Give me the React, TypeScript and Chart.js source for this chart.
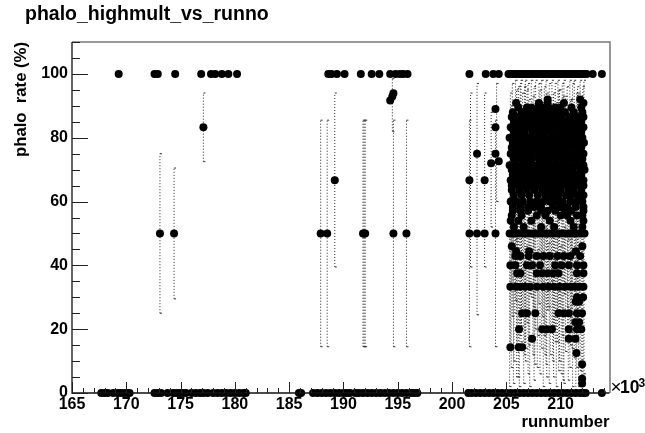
import React, { useEffect, useRef } from "react";
import { Chart, registerables } from "chart.js";

Chart.register(...registerables);

const titleText = "phalo_highmult_vs_runno";
const xTitle = "runnumber";
const yTitle = "phalo  rate (%)";

const fullRuns = [169.3,172.6,172.9,174.5,176.9,177.8,178.2,178.8,179.4,180.2,188.6,188.9,189.4,190.1,191.6,192.6,193.3,194.3,194.8,195.2,195.5,195.9,201.6,203.1,203.8,204.3,205.2,205.4,205.6,205.8,206,206.2,206.4,206.6,206.8,207,207.2,207.4,207.6,207.8,208,208.2,208.4,208.6,208.8,209,209.2,209.4,209.6,209.8,210,210.2,210.4,210.6,210.8,211,211.2,211.4,211.6,211.8,212,212.2,212.4,212.95,213.8];
const zeroRuns = [167.7,168,168.3,168.8,169.2,169.5,169.8,170.1,170.3,172.6,172.9,173.2,173.8,174.3,174.6,174.9,175.2,175.5,176,176.4,176.8,177.1,177.5,178,178.4,178.8,179.2,179.6,180,180.4,180.8,181,185.9,186.1,187.2,187.6,188,188.4,188.8,189.2,189.6,190,190.3,190.6,191.1,191.4,191.8,192.2,192.6,193,193.4,193.8,194.2,194.6,195,195.4,195.8,196.2,196.5,196.8,201.5,201.8,202.2,202.6,203,203.4,203.8,204.2,204.6,205,205.4,205.8,206.2,206.6,207,207.4,207.8,208.2,208.6,209,209.4,209.8,210.2,210.6,211,211.4,211.8,212.1,212.3,213.8];
const sparseRuns = [173.1,174.4,177.1,187.9,188.5,189.2,191.8,191.9,192,194.3,194.5,194.6,194.6,195.8,201.6,201.6,202.3,202.3,203,203,203.6,204,204,204,204,204.3];
const sparseRates = [50,50,83.3,50,50,66.7,50,50,50,91.7,92.9,93.9,50,50,50,66.7,50,75,50,66.7,72,50,89,83.3,75,72.6];

const barRuns = [173.1,174.4,177.1,187.9,188.5,189.2,191.8,191.9,192,194.5,194.6,195.8,201.6,201.7,202.3,203,203.6,204,204.1];
const barLow = [25,29.5,72.5,14.5,14.5,39.5,14.5,14.5,14.5,82,14.5,14.5,14.5,39.5,24.5,39.5,52,14.5,60];
const barHigh = [75,70.5,94,85.5,85.5,94,85.5,85.5,85.5,98.5,85.5,85.5,85.5,94,97,94,88,85.5,97];

const denseBarRuns = [205.3,205.37,205.45,205.55,205.65,205.7,205.85,205.95,206,206.1,206.2,206.28,206.35,206.5,206.6,206.68,206.75,206.9,207,207.08,207.15,207.3,207.45,207.55,207.62,207.7,207.85,208,208.1,208.25,208.33,208.4,208.5,208.65,208.72,208.8,208.95,209.05,209.2,209.28,209.35,209.5,209.6,209.75,209.82,209.9,210.05,210.15,210.22,210.3,210.45,210.6,210.7,210.85,210.92,211,211.1,211.25,211.4,211.48,211.55,211.65,211.8,211.95,212.05,212.15];
const denseBarLow = [2,14,8,24,3,10,29,5,14,5,2,18,16,25,3,12,10,22,6,15,2,30,12,4,9,20,8,28,6,14,24,2,18,9,5,26,3,12,20,10,5,16,2,24,7,10,6,18,4,3,13,27,4,8,15,19,2,11,1,8,16,2,7,1,0,6];
const denseBarHigh = [82,94,90,97,86,88,98,95,92,96,85,97,98,94,90,96,98,95,97,92,86,98,93,96,88,98,90,97,95,98,91,88,96,98,94,92,97,86,98,90,94,97,91,98,95,95,88,97,93,98,93,96,86,98,92,92,97,98,88,94,96,94,98,90,96,98];

const lowerBarRuns = [205.5,205.8,206.05,206.4,206.8,207.2,207.5,207.9,208.2,208.55,208.9,209.15,209.45,209.7,210,210.35,210.65,211.05,211.35,211.75];
const lowerBarLow = [33,25,37,21,14,31,27,18,33,12,27,35,21,16,25,31,20,14,28,23];
const lowerBarHigh = [52,48,50,55,46,50,53,45,50,52,47,51,50,54,46,52,48,50,53,47];

const denseRates = [92,90.9,89.5,88,86.5,85,83.3,81.8,80,78.4,76.9,75,73.3,71.4,70,68.4,66.7,65,63.6,62,60,58.3,57.1,55.6,54,52,50,46,44.4,42.9,40,37.5,33.3,30,28.6,25,22.2,20,17,14.3,12.5,9,4.5,3];
const denseRuns: number[][] = [
  [208.8,211.8],
  [205.9,208,208.8,210.3,212.1],
  [206.1,206.9,207.3,207.9,208.3,208.9,209.5,210,211,211.9],
  [205.6,206.4,207,207.6,208.1,208.7,209.2,209.8,210.4,211.2,212],
  [205.5,206,206.6,207.2,207.7,208.2,208.6,209,209.6,210.1,210.8,211.5,212.1],
  [205.7,206.3,206.9,207.5,208,208.5,209.1,209.7,210.3,210.9,211.4,211.9],
  [205.4,205.9,206.3,206.8,207.3,207.8,208.3,208.9,209.4,209.9,210.5,211,211.6,212.1],
  [205.7,206.2,206.7,207.4,208,208.5,209.1,209.7,210.2,210.7,211.3,211.9],
  [205.3,205.8,206.4,207,207.5,208.1,208.6,209.2,209.8,210.4,210.9,211.4,212],
  [205.6,206.1,206.6,207.2,207.7,208.3,208.8,209.3,209.9,210.5,211.1,211.7,212.15],
  [205.5,206,206.5,207,207.6,208.2,208.7,209.2,209.7,210.3,210.8,211.3,211.9],
  [205.4,205.9,206.4,206.9,207.4,207.9,208.4,208.9,209.5,210,210.6,211.2,211.7,212.1],
  [205.7,206.3,206.8,207.3,208,208.5,209,209.6,210.2,210.8,211.4,212],
  [205.3,205.9,206.5,207.1,207.6,208.2,208.7,209.3,209.9,210.4,211,211.6,212.1],
  [205.5,206,206.6,207.2,207.8,208.3,208.9,209.4,210,210.6,211.1,211.8,212.2],
  [205.6,206.2,206.8,207.4,207.9,208.5,209.1,209.6,210.2,210.7,211.3,211.9],
  [205.4,205.7,206.1,206.5,206.9,207.3,207.7,208.1,208.5,208.9,209.3,209.7,210.1,210.5,210.9,211.3,211.7,212.1],
  [205.5,206.1,206.7,207.3,207.9,208.4,209,209.5,210.1,210.7,211.2,211.8,212.1],
  [205.5,206.2,206.9,207.6,208.3,208.8,209.4,210,210.7,211.2,211.9],
  [205.7,206.4,207.1,207.9,208.6,209.2,209.8,210.5,211,211.6,212.1],
  [205.4,205.9,206.5,207.2,207.8,208.4,209,209.6,210.2,210.9,211.5,212],
  [205.6,206.3,207,207.6,208.2,209.3,210,210.6,211.4,212.1],
  [205.6,206.3,207,208.2,208.8,209.5,210.4,211,212.1],
  [205.5,206.4,207.8,208.6,210,210.6,211.5,212],
  [205.4,206.1,207.3,209,210.9,212.1],
  [205.7,206.6,208.2,209.4,211.2,212],
  [205.3,205.6,205.9,206.2,206.5,206.8,207.1,207.4,207.7,208,208.3,208.6,208.9,209.2,209.5,209.8,210.1,210.4,210.7,211,211.3,211.6,211.9,212.2],
  [205.5,212],
  [205.9,207.1,211.4],
  [205.83,206.3,207.07,207.8,208.4,209,209.7,210.3,210.9,211.8],
  [205.37,205.83,206.9,207.37,208.1,209.5,210.1,210.75,211.5,212.1],
  [206,206.3,207.8,208.3,208.8,209.3,209.8,211.5,212.1],
  [205.37,205.9,206.3,206.75,207.2,207.8,208.4,208.9,209.4,209.9,210.4,210.9,211.3,211.7,212.1],
  [211.5,212.07],
  [211.4,211.7],
  [206.45,206.9,207.67,209.8,210.3,210.75,211.5,211.97],
  [211.36,211.7],
  [206.17,208.3,208.75,209.2,210.75,211.5,211.9],
  [207.37,210.75,211.36],
  [205.37,206.14,206.45],
  [211.45],
  [211.98],
  [211.98],
  [211.98],
];

const toPoints = (xs: number[], ys: number[]) => xs.map((x, i) => ({ x, y: ys[i] }));

const errorPath = (xs: number[], lo: number[], hi: number[]) =>
  xs.flatMap((x, i) => [{ x, y: lo[i] }, { x, y: hi[i] }, { x, y: NaN }]);

const allBarPath = [
  ...errorPath(barRuns, barLow, barHigh),
  ...errorPath(denseBarRuns, denseBarLow, denseBarHigh),
  ...errorPath(lowerBarRuns, lowerBarLow, lowerBarHigh),
];

const densePoints = denseRates.flatMap((y, r) => denseRuns[r].map((x) => ({ x, y })));

const axisFrame = {
  id: "axisFrame",
  afterDraw(chart: any) {
    const { ctx, chartArea: a, scales } = chart;
    ctx.save();
    ctx.strokeStyle = "#777";
    ctx.lineWidth = 1.5;
    ctx.beginPath();
    ctx.moveTo(a.left, a.top);
    ctx.lineTo(a.right + 0.5, a.top);
    ctx.lineTo(a.right + 0.5, a.bottom);
    ctx.stroke();
    ctx.strokeStyle = "#111";
    ctx.lineWidth = 1.3;
    ctx.beginPath();
    ctx.moveTo(a.left, a.top);
    ctx.lineTo(a.left, a.bottom);
    ctx.lineTo(a.right, a.bottom);
    ctx.stroke();
    ctx.lineWidth = 1;
    ctx.strokeStyle = "#222";
    ctx.beginPath();
    scales.x.ticks.forEach((t: any) => {
      const px = Math.round(scales.x.getPixelForValue(t.value)) + 0.5;
      const len = t.value % 5 === 0 ? 11 : 5;
      ctx.moveTo(px, a.bottom);
      ctx.lineTo(px, a.bottom - len);
    });
    scales.y.ticks.forEach((t: any) => {
      const py = Math.round(scales.y.getPixelForValue(t.value)) + 0.5;
      const len = t.value % 20 === 0 ? 16 : 8;
      ctx.moveTo(a.left, py);
      ctx.lineTo(a.left + len, py);
    });
    ctx.stroke();
    ctx.fillStyle = "#000";
    ctx.textBaseline = "alphabetic";
    ctx.textAlign = "left";
    ctx.font = "bold 19.5px 'Liberation Sans'";
    ctx.fillText(titleText, 25, 19.5);
    ctx.font = "19px 'Liberation Sans'";
    ctx.fillText("\u00d7", a.right + 1, a.bottom);
    ctx.font = "bold 17.5px 'Liberation Sans'";
    ctx.fillText("10", a.right + 10.5, a.bottom);
    ctx.font = "bold 12px 'Liberation Sans'";
    ctx.fillText("3", a.right + 29, a.bottom - 6);
    ctx.restore();
  },
};

export default function App() {
  const ref = useRef<HTMLCanvasElement | null>(null);
  useEffect(() => {
    const chart = new Chart(ref.current as HTMLCanvasElement, {
      type: "scatter",
      data: {
        datasets: [
          {
            label: "errors",
            data: allBarPath,
            showLine: true,
            spanGaps: false,
            borderColor: "#222",
            borderWidth: 1,
            borderDash: [1, 2],
            pointStyle: "dash",
            pointRadius: 2,
            pointBorderColor: "#333",
            pointBorderWidth: 1,
            order: 3,
          },
          { label: "full", data: fullRuns.map((x) => ({ x, y: 100 })), order: 1 },
          { label: "zero", data: zeroRuns.map((x) => ({ x, y: 0 })), order: 1 },
          { label: "sparse", data: toPoints(sparseRuns, sparseRates), order: 1 },
          { label: "dense", data: densePoints, order: 1 },
        ].map((d: any) =>
          d.label === "errors"
            ? { ...d, clip: false }
            : { ...d, backgroundColor: "#000", borderColor: "#000", pointRadius: 4, pointBorderWidth: 0, clip: false }
        ),
      } as any,
      plugins: [axisFrame],
      options: {
        animation: false,
        responsive: false,
        layout: { padding: { left: 11.5, right: 35.5, top: 42, bottom: 0 } },
        plugins: {
          legend: { display: false },
          tooltip: { enabled: false },
          title: { display: false },
        },
        scales: {
          x: {
            type: "linear",
            min: 165,
            max: 214.5,
            grid: { display: false, drawTicks: false },
            border: { display: false },
            afterFit: (s: any) => { s.height = 40; },
            title: {
              display: true,
              text: xTitle,
              align: "end",
              color: "#000",
              font: { family: "'Liberation Sans'", size: 16.7, weight: "bold" },
              padding: { top: 0, bottom: 1 },
            },
            ticks: {
              stepSize: 1,
              includeBounds: false,
              autoSkip: false,
              maxRotation: 0,
              padding: 2,
              color: "#000",
              font: { family: "'Liberation Sans'", size: 16, weight: "bold" },
              callback: (v: any) => (v % 5 === 0 ? String(v) : ""),
            },
          },
          y: {
            type: "linear",
            min: 0,
            max: 110,
            grid: { display: false, drawTicks: false },
            border: { display: false },
            afterFit: (s: any) => { s.width = 60.5; },
            title: {
              display: true,
              text: yTitle,
              align: "end",
              color: "#000",
              font: { family: "'Liberation Sans'", size: 16.7, weight: "bold" },
              padding: { top: 0, bottom: 0 },
            },
            ticks: {
              stepSize: 5,
              autoSkip: false,
              padding: 4,
              color: "#000",
              font: { family: "'Liberation Sans'", size: 16, weight: "bold" },
              callback: (v: any) => (v % 20 === 0 ? String(v) : ""),
            },
          },
        },
      } as any,
    });
    return () => chart.destroy();
  }, []);
  return (
    <div style={{ position: "absolute", left: 0, top: 0, width: 645, height: 433 }}>
      <canvas ref={ref} width={645} height={433} style={{ display: "block" }} />
    </div>
  );
}
